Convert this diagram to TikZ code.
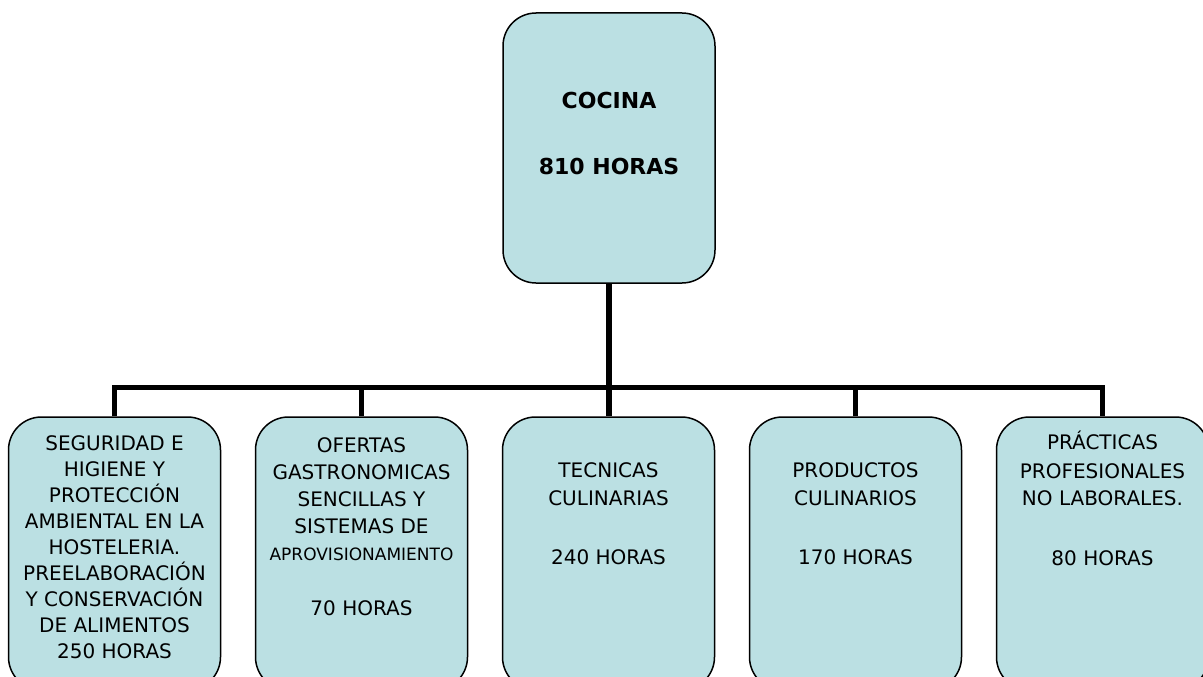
\documentclass[tikz,border=0pt]{standalone}
\usepackage{fontspec}
\setmainfont{DejaVu Sans}
\usepackage{tikz}
\usetikzlibrary{positioning}
\definecolor{boxfill}{RGB}{187,224,227}

\begin{document}
\begin{tikzpicture}[x=1pt,y=-1pt,
      every node/.style={align=center},
      box/.style={draw, line width=1.5pt, fill=boxfill, rounded corners=33pt,
        minimum width=212pt, minimum height=273pt, inner sep=0pt},
      lbl/.style={inner sep=0pt, font=\fontsize{20}{#1}\selectfont},
      lbl/.default=27pt,
      link/.style={line width=5.5pt}]
    \useasboundingbox (0,0) rectangle (1203,677);
    \clip (0,0) rectangle (1203,677);
    \node[box, minimum height=270pt] (top) at (609,148) {};
    \node[lbl, font=\bfseries\fontsize{22}{33}\selectfont,
      below=80pt of top.north] (l0) {COCINA\\[33pt]810 HORAS};
    \node[box] (1) at (114.5,553.5) {};
    \node[box, right=33.5pt of 1] (2) {};
    \node[box, right=33.5pt of 2] (3) {};
    \node[box, right=33.5pt of 3] (4) {};
    \node[box, right=33.5pt of 4] (5) {};
    \node[lbl=26pt, below=19pt of 1.north] (l1) {SEGURIDAD E\\HIGIENE Y\\PROTECCIÓN\\AMBIENTAL EN LA\\HOSTELERIA.\\PREELABORACIÓN\\Y CONSERVACIÓN\\DE ALIMENTOS\\250 HORAS};
    \node[lbl, below=21pt of 2.north] (l2) {OFERTAS\\GASTRONOMICAS\\SENCILLAS Y\\SISTEMAS DE\\{\fontsize{17}{27}\selectfont APROVISIONAMIENTO}\\[28pt]70 HORAS};
    \node[lbl=28pt, below=46pt of 3.north] (l3) {TECNICAS\\CULINARIAS\\[31pt]240 HORAS};
    \node[lbl=28pt, below=46pt of 4.north] (l4) {PRODUCTOS\\CULINARIOS\\[31pt]170 HORAS};
    \node[lbl=28pt, below=15pt of 5.north] (l5) {PRÁCTICAS\\PROFESIONALES\\NO LABORALES.\\[32pt]80 HORAS};
    % connectors
    \draw[link] (top.south) -- (top.south |- 3.north);
    \draw[link] (1.north) -- ++(0,-29) -| (5.north);
    \draw[link] (2.north) -- ++(0,-29);
    \draw[link] (4.north) -- ++(0,-29);
\end{tikzpicture}
\end{document}
